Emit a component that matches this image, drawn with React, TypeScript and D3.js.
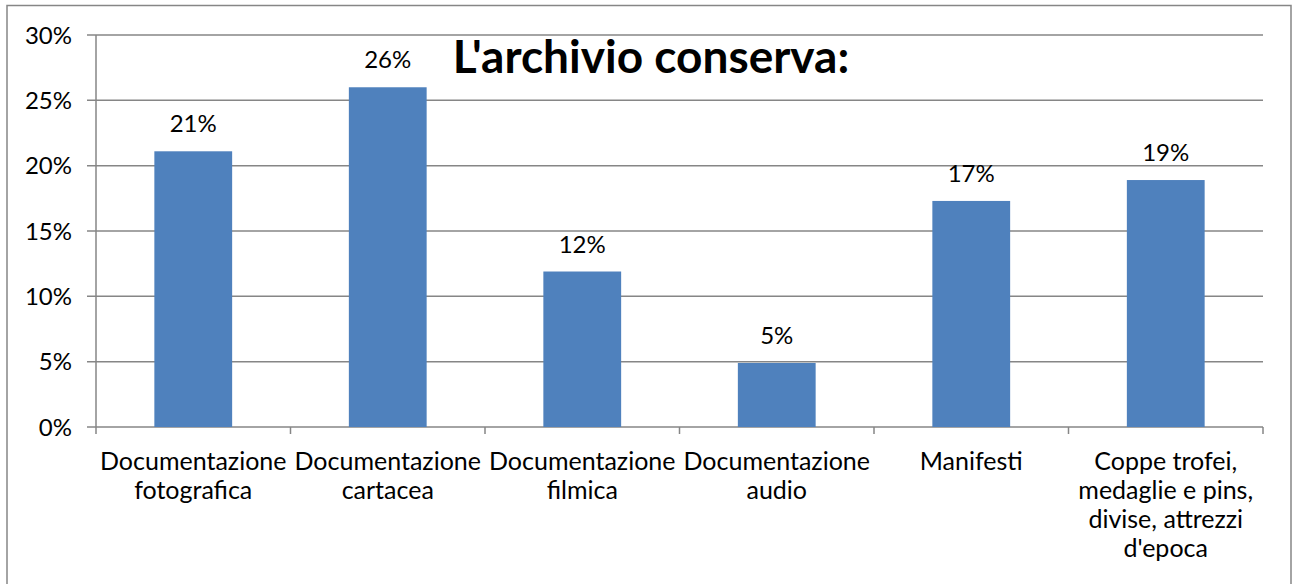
import React from "react";
import * as d3 from "d3";

// data
const categories = [
  "Documentazione fotografica",
  "Documentazione cartacea",
  "Documentazione filmica",
  "Documentazione audio",
  "Manifesti",
  "Coppe trofei, medaglie e pins, divise, attrezzi d'epoca",
];
const labelLines = [
  ["Documentazione", "fotografica"],
  ["Documentazione", "cartacea"],
  ["Documentazione", "filmica"],
  ["Documentazione", "audio"],
  ["Manifesti"],
  ["Coppe trofei,", "medaglie e pins,", "divise, attrezzi", "d'epoca"],
];
const values = [0.211, 0.26, 0.119, 0.049, 0.173, 0.189];
const valueLabels = ["21%", "26%", "12%", "5%", "17%", "19%"];
const yTicks = [0, 0.05, 0.1, 0.15, 0.2, 0.25, 0.3];
const title = "L'archivio conserva:";

const W = 1293;
const H = 584;
const plot = { left: 96, right: 1263, top: 35, bottom: 427 };
const font = "Lato, 'Noto Sans', sans-serif";
const grey = "#868686";

const App = () => {
  const x = d3
    .scaleBand()
    .domain(categories)
    .range([plot.left, plot.right])
    .paddingInner(0.6)
    .paddingOuter(0.3);
  const band = d3
    .scaleBand()
    .domain(categories)
    .range([plot.left, plot.right]);
  const y = d3.scaleLinear().domain([0, 0.3]).range([plot.bottom, plot.top]);
  const fmt = d3.format(".0%");

  return (
    <svg
      width={W}
      height={H}
      style={{ position: "absolute", left: 0, top: 0, background: "#fff" }}
      fontFamily={font}
    >
      <rect x={7} y={5.5} width={1284} height={620} fill="#fff" stroke={grey} strokeWidth={1.5} />

      {/* gridlines + y ticks */}
      {yTicks.map(t => (
        <g key={t}>
          <line x1={plot.left - 9} x2={plot.right} y1={y(t)} y2={y(t)} stroke={grey} strokeWidth={1.5} />
          <text x={72} y={y(t)} dy="0.36em" textAnchor="end" fontSize={24} fill="#000">
            {fmt(t)}
          </text>
        </g>
      ))}
      <line x1={plot.left} x2={plot.left} y1={plot.top} y2={plot.bottom} stroke={grey} strokeWidth={1.5} />

      {/* category ticks */}
      {categories.map(c => (
        <line
          key={c}
          x1={band(c)}
          x2={band(c)}
          y1={plot.bottom}
          y2={plot.bottom + 7}
          stroke={grey}
          strokeWidth={1.5}
        />
      ))}
      <line x1={plot.right} x2={plot.right} y1={plot.bottom} y2={plot.bottom + 7} stroke={grey} strokeWidth={1.5} />

      {/* bars */}
      {categories.map((c, i) => (
        <rect
          key={c}
          x={x(c)}
          y={y(values[i])}
          width={x.bandwidth()}
          height={y(0) - y(values[i])}
          fill="#4F81BD"
        />
      ))}

      {/* value labels */}
      {categories.map((c, i) => (
        <text
          key={c}
          x={x(c)! + x.bandwidth() / 2}
          y={y(values[i]) - 19}
          textAnchor="middle"
          fontSize={24}
          fill="#000"
        >
          {valueLabels[i]}
        </text>
      ))}

      {/* category labels */}
      {categories.map((c, i) => (
        <text
          key={c}
          x={band(c)! + band.bandwidth() / 2}
          y={470}
          textAnchor="middle"
          fontSize={25}
          fill="#000"
        >
          {labelLines[i].map((l, j) => (
            <tspan key={j} x={band(c)! + band.bandwidth() / 2} dy={j === 0 ? 0 : 29}>
              {l}
            </tspan>
          ))}
        </text>
      ))}

      <text x={651} y={73} textAnchor="middle" fontSize={46} fontWeight="bold" fill="#000">
        {title}
      </text>
    </svg>
  );
};

export default App;
